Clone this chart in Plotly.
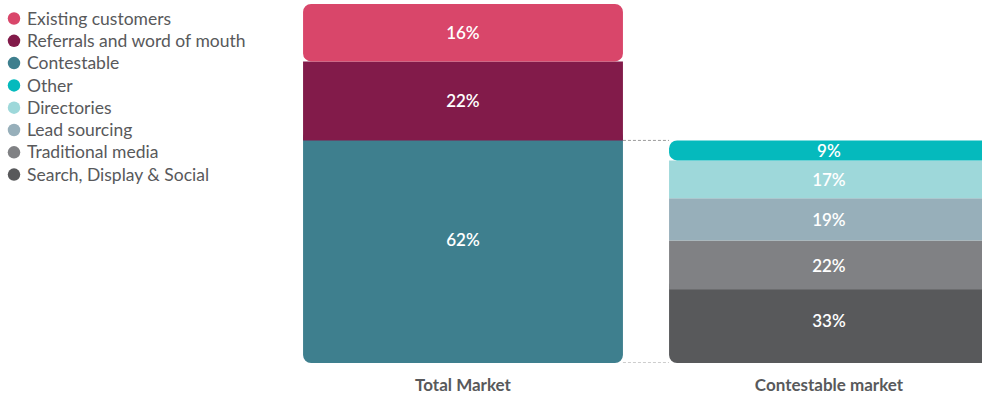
import plotly.graph_objects as go
import numpy as np

# ---- data ----
bar_labels = ["Total Market", "Contestable market"]

total_names = ["Contestable", "Referrals and word of mouth", "Existing customers"]  # bottom -> top
total_values = [62, 22, 16]
total_colors = ["#3E7F8E", "#821B4A", "#D9466A"]

cont_names = ["Search, Display & Social", "Traditional media", "Lead sourcing", "Directories", "Other"]  # bottom -> top
cont_values = [33, 22, 19, 17, 9]
cont_colors = ["#58595B", "#808184", "#97AFBA", "#9ED8DA", "#05BABD"]

legend_order = ["Existing customers", "Referrals and word of mouth", "Contestable", "Other",
                "Directories", "Lead sourcing", "Traditional media", "Search, Display & Social"]

FONT = "Lato"
GREY = "#58595B"
BAR_W = 0.874
RADIUS = 8
OVERLAP = 3  # hidden overlap so the bottom segment's upper corners sit under the next segment
BOTTOM_LABEL_FRAC = 0.547

W, H = 982, 398
T, B = 4, 35
PLOT_LEFT = 290

color_map = dict(zip(total_names + cont_names, total_colors + cont_colors))
label_font = dict(family=FONT, size=17, color="white", weight=600)

fig = go.Figure()

contestable_share = total_values[0]


def add_stack(xpos, names, values, heights, colors):
    bases = np.concatenate([[0], np.cumsum(heights)[:-1]])
    n = len(values)
    for i in range(n):
        if i == 0:
            # bottom segment drawn downward so its lower corners are rounded
            y = -(heights[i] + OVERLAP)
            base = bases[i] + heights[i] + OVERLAP
            cr = RADIUS
        else:
            y = heights[i]
            base = bases[i]
            cr = RADIUS if i == n - 1 else 0
        fig.add_trace(go.Bar(
            x=[xpos], y=[y], base=[base], width=BAR_W,
            marker=dict(color=colors[i], cornerradius=cr, line=dict(width=0)),
            text=[f"{values[i]}%"] if i > 0 else None,
            textposition="inside" if i > 0 else "none", insidetextanchor="middle",
            textfont=label_font,
            name=names[i], showlegend=False, hoverinfo="skip",
        ))
    # label for bottom segment
    fig.add_trace(go.Scatter(
        x=[xpos], y=[heights[0] * BOTTOM_LABEL_FRAC], mode="text", text=[f"{values[0]}%"],
        textfont=label_font, showlegend=False, hoverinfo="skip",
    ))


add_stack(0, total_names, total_values, list(total_values), total_colors)
cont_heights = [contestable_share * v / 100 for v in cont_values]
add_stack(1, cont_names, cont_values, cont_heights, cont_colors)

# dashed connector lines
for lvl in [contestable_share, 0]:
    fig.add_trace(go.Scatter(
        x=[BAR_W / 2, 1 - BAR_W / 2], y=[lvl, lvl], mode="lines",
        line=dict(color="#9A9A9A", width=1, dash="3px,2px"),
        showlegend=False, hoverinfo="skip", cliponaxis=False,
    ))

# custom legend (circles + labels) on hidden axes
idx = list(range(len(legend_order)))
fig.add_trace(go.Scatter(
    x=[14] * len(idx), y=idx, mode="markers", xaxis="x2", yaxis="y2",
    marker=dict(symbol="circle", size=12.5, color=[color_map[n] for n in legend_order]),
    showlegend=False, hoverinfo="skip", cliponaxis=False,
))
fig.add_trace(go.Scatter(
    x=[27] * len(idx), y=[i + 0.08 for i in idx], mode="text", xaxis="x2", yaxis="y2",
    text=legend_order, textposition="middle right",
    textfont=dict(family=FONT, size=17.5, color=GREY),
    showlegend=False, hoverinfo="skip", cliponaxis=False,
))

plot_h = H - T - B
step = 22.3
first_y = 18.5
r0 = -(first_y - T) / step
r1 = r0 + plot_h / step

fig.update_layout(
    width=W, height=H,
    margin=dict(l=0, r=0, t=T, b=B),
    barmode="overlay",
    plot_bgcolor="white", paper_bgcolor="white",
    font=dict(family=FONT, color=GREY),
    uniformtext=dict(minsize=17, mode="show"),
    xaxis=dict(
        domain=[PLOT_LEFT / W, 1],
        range=[-(463 - PLOT_LEFT) / 366, 1 + (982 - 829) / 366],
        tickvals=[0, 1], ticktext=[f"<b>{t}</b>" for t in bar_labels],
        tickfont=dict(family=FONT, size=17, color=GREY),
        ticklabelstandoff=10,
        showgrid=False, zeroline=False, showline=False, ticks="",
    ),
    yaxis=dict(range=[0, 100], visible=False),
    xaxis2=dict(domain=[0, PLOT_LEFT / W], range=[0, PLOT_LEFT], visible=False, anchor="y2"),
    yaxis2=dict(domain=[0, 1], range=[r1, r0], visible=False, anchor="x2"),
    showlegend=False,
)

fig.write_html("out.html")
